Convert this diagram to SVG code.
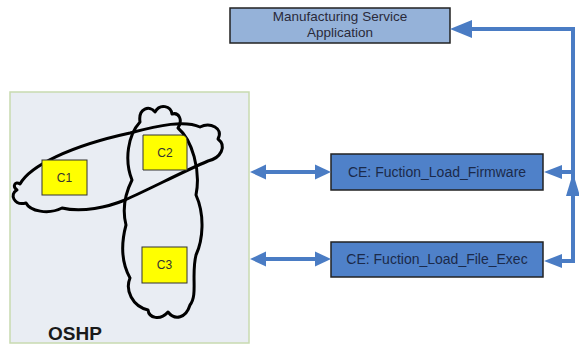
<svg xmlns="http://www.w3.org/2000/svg" width="579" height="347" viewBox="0 0 579 347">
<style>
.txt{font-family:"Liberation Sans",Arial,sans-serif;text-anchor:middle}
.ce{fill:#4F81C9;stroke:#222;stroke-width:1.5}
.ms{fill:#95B2D9;stroke:#222;stroke-width:1.5}
.yel{fill:#FFFF00;stroke:#333;stroke-width:1}
.cloud{fill:none;stroke:#000;stroke-width:3;stroke-linejoin:round}
.shaft{stroke:#4A7CC4;stroke-width:4;fill:none}
.head{fill:#4A7CC4}
</style>
<rect width="579" height="347" fill="#fff"/>
<g id="oshp">
<rect x="10" y="92" width="239" height="251" fill="#E9EDF3" stroke="#C8DAB0" stroke-width="1.5"/>
<text class="txt" x="75" y="340" font-size="19" font-weight="bold" fill="#1a1a1a">OSHP</text>
</g>
<g id="clouds">
<path class="cloud" d="M 20 184 C 30 166 70 146 130 133 C 160 125 185 120 200 127 C 210 122 224 128 218 139 C 227 146 221 158 208 161 C 182 172 152 188 125 200 C 108 207 82 213 62 208 C 48 215 30 211 26 203 C 14 206 9 194 17 190 C 12 186 15 181 20 184 Z"/>
<path class="cloud" d="M 140 122 C 138 108 150 105 155 112 C 160 103 171 106 172 114 C 179 112 183 120 178 128 C 192 140 201 170 196 195 C 205 215 203 240 196 255 C 191 275 198 295 190 305 C 186 318 175 321 168 312 C 160 321 149 318 148 310 C 132 306 125 290 130 278 C 120 260 122 240 126 225 C 121 205 127 190 132 180 C 124 160 128 135 140 122 Z"/>
</g>
<g id="c1">
<rect class="yel" x="42" y="160" width="45" height="35"/>
<text class="txt" x="64.5" y="182" font-size="12" fill="#333">C1</text>
</g>
<g id="c2">
<path class="yel" d="M 143 135 H 181 Q 187 135 187 141 V 170 H 143 Z"/>
<text class="txt" x="165" y="157" font-size="12" fill="#333">C2</text>
</g>
<g id="c3">
<rect class="yel" x="142" y="247" width="45" height="36"/>
<text class="txt" x="164.5" y="269" font-size="12" fill="#333">C3</text>
</g>
<g id="msa">
<rect class="ms" x="230" y="8" width="220" height="35"/>
<text class="txt" x="340" y="21" font-size="13.5" fill="#2a2a3a">Manufacturing Service</text>
<text class="txt" x="340" y="37" font-size="13.5" fill="#2a2a3a">Application</text>
</g>
<g id="ce_firmware">
<rect class="ce" x="331" y="154" width="212" height="36"/>
<text class="txt" x="437" y="177" font-size="14" fill="#1B2A4A">CE: Fuction_Load_Firmware</text>
</g>
<g id="ce_file_exec">
<rect class="ce" x="331" y="242" width="212" height="35"/>
<text class="txt" x="437" y="264" font-size="14" fill="#1B2A4A">CE: Fuction_Load_File_Exec</text>
</g>
<g id="connectors">
<line class="shaft" x1="262" y1="172" x2="318" y2="172"/>
<polygon class="head" points="250,172 266,164.5 266,179.5"/>
<polygon class="head" points="331,172 315,164.5 315,179.5"/>
<line class="shaft" x1="262" y1="259" x2="318" y2="259"/>
<polygon class="head" points="250,259 266,251.5 266,266.5"/>
<polygon class="head" points="331,259 315,251.5 315,266.5"/>
<path class="shaft" d="M 558 261 H 573 V 29 H 470"/>
<polygon class="head" points="450,29 472,20 472,38"/>
<line class="shaft" x1="573" y1="172" x2="558" y2="172"/>
<polygon class="head" points="544,172 562,165 562,179"/>
<polygon class="head" points="544,261 562,254 562,268"/>
<polygon class="head" points="573,173 566,196 580,196"/>
</g>
</svg>
